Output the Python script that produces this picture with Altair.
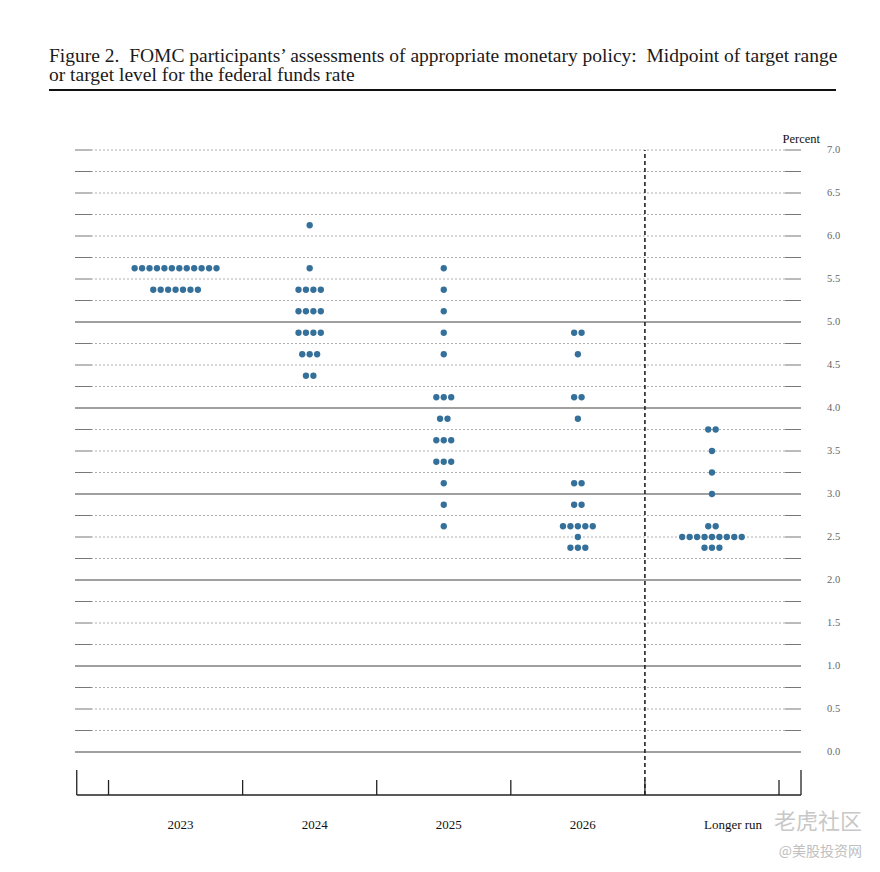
import altair as alt
import pandas as pd
import numpy as np

# ---------------- data ----------------
years = ["2023", "2024", "2025", "2026", "Longer run"]

rates_2023 = [5.625, 5.375]
counts_2023 = [12, 7]
rates_2024 = [6.125, 5.625, 5.375, 5.125, 4.875, 4.625, 4.375]
counts_2024 = [1, 1, 4, 4, 4, 3, 2]
rates_2025 = [5.625, 5.375, 5.125, 4.875, 4.625, 4.125, 3.875, 3.625, 3.375, 3.125, 2.875, 2.625]
counts_2025 = [1, 1, 1, 1, 1, 3, 2, 3, 3, 1, 1, 1]
rates_2026 = [4.875, 4.625, 4.125, 3.875, 3.125, 2.875, 2.625, 2.5, 2.375]
counts_2026 = [2, 1, 2, 1, 2, 2, 5, 1, 3]
rates_lr = [3.75, 3.5, 3.25, 3.0, 2.625, 2.5, 2.375]
counts_lr = [2, 1, 1, 1, 2, 9, 3]

y_label_values = [0.0, 0.5, 1.0, 1.5, 2.0, 2.5, 3.0, 3.5, 4.0, 4.5, 5.0, 5.5, 6.0, 6.5, 7.0]
grid_levels = [i * 0.25 for i in range(29)]
solid_levels = [0.0, 1.0, 2.0, 3.0, 4.0, 5.0]
tick_positions = [-0.5, 0.5, 1.5, 2.5, 3.5, 4.5]

title_line1 = "Figure 2.\u00a0 FOMC participants\u2019 assessments of appropriate monetary policy:\u00a0 Midpoint of target range"
title_line2 = "or target level for the federal funds rate"
y_title = "Percent"
watermark1 = "\u8001\u864e\u793e\u533a"
watermark2 = "@\u7f8e\u80a1\u6295\u8d44\u7f51"

# ---------------- geometry helpers ----------------
X_MIN, X_MAX = -0.75, 4.664
Y_MIN, Y_MAX = -0.5, 7.0
W, H = 726, 645
SERIF = "Liberation Serif"
DOT = 0.0555  # horizontal spacing of dots in column units

groups = [
    (rates_2023, counts_2023),
    (rates_2024, counts_2024),
    (rates_2025, counts_2025),
    (rates_2026, counts_2026),
    (rates_lr, counts_lr),
]
rows = []
for ci, (rates, counts) in enumerate(groups):
    for r, n in zip(rates, counts):
        for k in range(n):
            rows.append({"x": ci + (k - (n - 1) / 2) * DOT, "y": r, "year": years[ci]})
dots_df = pd.DataFrame(rows)

xs = alt.Scale(domain=[X_MIN, X_MAX], nice=False, zero=False)
ys = alt.Scale(domain=[Y_MIN, Y_MAX], nice=False, zero=False)

dotted_levels = [v for v in grid_levels if v not in solid_levels]
cap_l, cap_r = -0.627, 4.545
dot_df = pd.DataFrame({"y": dotted_levels, "x1": cap_l, "x2": cap_r})
caps_df = pd.concat([
    pd.DataFrame({"y": dotted_levels, "x1": X_MIN, "x2": cap_l}),
    pd.DataFrame({"y": dotted_levels, "x1": cap_r, "x2": X_MAX}),
])
solid_df = pd.DataFrame({"y": solid_levels, "x1": X_MIN, "x2": X_MAX})


def hrule(df, **kw):
    return alt.Chart(df).mark_rule(**kw).encode(
        y=alt.Y("y:Q", scale=ys, axis=None),
        x=alt.X("x1:Q", scale=xs, axis=None),
        x2="x2:Q",
    )


grid_dotted = hrule(dot_df, color="#606060", strokeWidth=1, strokeDash=[1, 3])
grid_caps = hrule(caps_df, color="#777777", strokeWidth=1)
grid_solid = hrule(solid_df, color="#808080", strokeWidth=1.3)


def vrule(df, **kw):
    return alt.Chart(df).mark_rule(**kw).encode(
        x=alt.X("x:Q", scale=xs, axis=None),
        y=alt.Y("y1:Q", scale=ys, axis=None),
        y2="y2:Q",
    )


dashed = vrule(pd.DataFrame({"x": [3.5], "y1": [Y_MIN], "y2": [Y_MAX]}),
               color="#222222", strokeWidth=1.6, strokeDash=[4, 3])
ticks = vrule(pd.DataFrame({"x": tick_positions, "y1": Y_MIN, "y2": Y_MIN + 15 / 86}),
              color="#222222", strokeWidth=1.3)
ends = vrule(pd.DataFrame({"x": [X_MIN + 0.013, X_MAX], "y1": Y_MIN, "y2": Y_MIN + 25 / 86}),
             color="#222222", strokeWidth=1.3)
baseline = hrule(pd.DataFrame({"y": [Y_MIN], "x1": [X_MIN + 0.013], "x2": [X_MAX]}),
                 color="#222222", strokeWidth=1.4)

dots = alt.Chart(dots_df).mark_circle(size=40, opacity=1, color="#35709a").encode(
    x=alt.X("x:Q", scale=xs, axis=None),
    y=alt.Y("y:Q", scale=ys, axis=None),
)

# y-axis labels (right side) and x category labels, placed through the scales
ylab_df = pd.DataFrame({"y": y_label_values, "x": X_MAX,
                        "t": ["%.1f" % v for v in y_label_values]})
ylabels = alt.Chart(ylab_df).mark_text(
    align="left", baseline="middle", dx=26, font=SERIF, fontSize=10.5, color="#666666"
).encode(x=alt.X("x:Q", scale=xs, axis=None), y=alt.Y("y:Q", scale=ys, axis=None), text="t:N")

xlab_df = pd.DataFrame({"x": list(range(len(years))), "y": Y_MIN, "t": years})
xlabels = alt.Chart(xlab_df).mark_text(
    align="left", baseline="middle", dx=-8, dy=30, font=SERIF, fontSize=13, color="#111111"
).encode(x=alt.X("x:Q", scale=xs, axis=None), y=alt.Y("y:Q", scale=ys, axis=None), text="t:N")

ytitle = alt.Chart(pd.DataFrame({"x": [X_MAX], "y": [Y_MAX], "t": [y_title]})).mark_text(
    align="right", baseline="middle", dx=19, dy=-11, font=SERIF, fontSize=12.5, color="#111111"
).encode(x=alt.X("x:Q", scale=xs, axis=None), y=alt.Y("y:Q", scale=ys, axis=None), text="t:N")


def text_layer(txt, px, py, **kw):
    return alt.Chart(pd.DataFrame({"t": [txt]})).mark_text(**kw).encode(
        x=alt.value(px), y=alt.value(py), text="t:N")


t1 = text_layer(title_line1, -26, -88, align="left", baseline="alphabetic",
                font=SERIF, fontSize=19.5, color="#1a1a1a")
t2 = text_layer(title_line2, -26, -69, align="left", baseline="alphabetic",
                font=SERIF, fontSize=19.5, color="#1a1a1a")
title_rule = alt.Chart(pd.DataFrame({"a": [0]})).mark_rule(color="#111111", strokeWidth=2).encode(
    x=alt.value(-26), x2=alt.value(761), y=alt.value(-60)
)
wm1 = text_layer(watermark1, 787, 672, align="right", baseline="middle",
                 font="Noto Sans CJK SC", fontSize=22, color="#c8c8c8")
wm2 = text_layer(watermark2, 787, 702, align="right", baseline="middle",
                 font="Noto Sans CJK SC", fontSize=14, color="#c0c0c0")

chart = alt.layer(
    grid_dotted, grid_caps, grid_solid, dashed, baseline, ticks, ends, dots,
    ylabels, xlabels, ytitle, t1, t2, title_rule, wm1, wm2,
).properties(
    width=W, height=H,
    autosize=alt.AutoSizeParams(type="none"),
    padding={"left": 67, "top": 142, "right": 68, "bottom": 70},
    background="white",
).configure_view(stroke=None)

chart.save("out.html", embed_options={"renderer": "svg", "actions": False})
